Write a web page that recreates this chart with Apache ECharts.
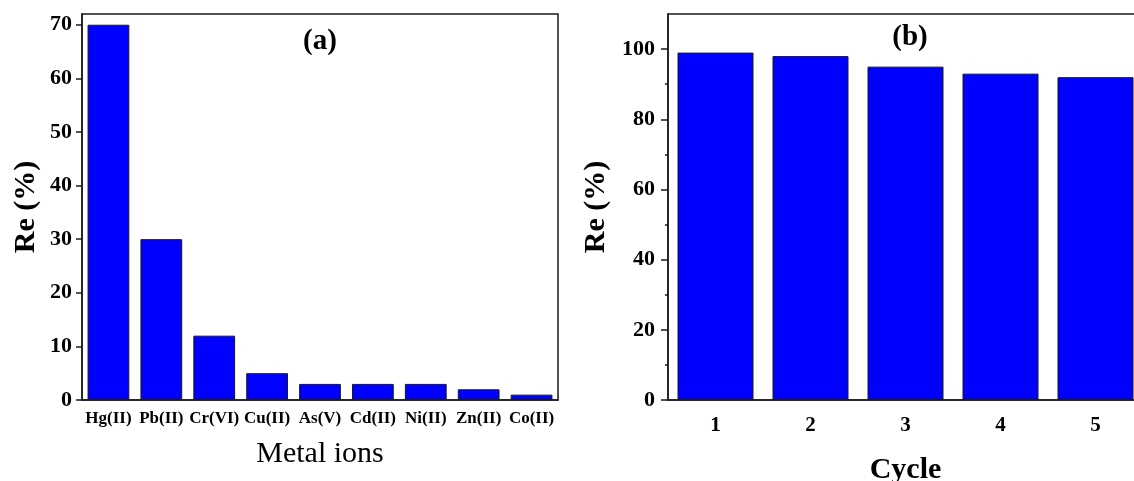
<!DOCTYPE html>
<html>
<head>
<meta charset="utf-8">
<script src="https://cdn.jsdelivr.net/npm/echarts@6/dist/echarts.min.js"></script>
<style>
html,body{margin:0;padding:0;background:#fff;}
#c{width:1134px;height:481px;}
</style>
</head>
<body>
<div id="c"></div>
<script>
const metalIons = ['Hg(II)','Pb(II)','Cr(VI)','Cu(II)','As(V)','Cd(II)','Ni(II)','Zn(II)','Co(II)'];
const metalRe = [70, 30, 12, 5, 3, 3, 3, 2, 1];
const cycles = ['1','2','3','4','5'];
const cycleRe = [99, 98, 95, 93, 92];
const ticksA = [0, 10, 20, 30, 40, 50, 60, 70];
const ticksB = [0, 20, 40, 60, 80, 100];
const minorTicksB = [10, 30, 50, 70, 90];

const FONT = '"Liberation Serif", "Times New Roman", serif';
const INK = '#1a1a1a';
const BLUE = '#0000ff';

const chart = echarts.init(document.getElementById('c'), null, {renderer: 'canvas'});

const lineStyle = {color: INK, width: 1.5};

chart.setOption({
  animation: false,
  backgroundColor: '#fff',
  title: [
    {text: '(a)', left: 315, top: 22, textAlign: 'center',
     textStyle: {fontFamily: FONT, fontWeight: 'bold', fontSize: 29, color: '#000'}},
    {text: '(b)', left: 905, top: 18, textAlign: 'center',
     textStyle: {fontFamily: FONT, fontWeight: 'bold', fontSize: 29, color: '#000'}}
  ],
  grid: [
    {left: 82, top: 14, width: 476, height: 386, show: true, borderColor: INK, borderWidth: 1.5,
     backgroundColor: 'transparent', outerBoundsMode: 'none', containLabel: false},
    {left: 668, top: 14, width: 475, height: 386, show: true, borderColor: INK, borderWidth: 1.5,
     backgroundColor: 'transparent', outerBoundsMode: 'none', containLabel: false}
  ],
  xAxis: [
    {type: 'category', gridIndex: 0, data: metalIons,
     name: 'Metal ions', nameLocation: 'middle', nameGap: 39,
     nameTextStyle: {fontFamily: FONT, fontSize: 30, color: '#000'},
     axisLine: {lineStyle: lineStyle},
     axisTick: {alignWithLabel: true, length: 5, lineStyle: lineStyle},
     axisLabel: {fontFamily: FONT, fontWeight: 'bold', fontSize: 17, color: '#000', margin: 10, interval: 0},
     splitLine: {show: false}},
    {type: 'category', gridIndex: 1, data: cycles,
     name: 'Cycle', nameLocation: 'middle', nameGap: 55,
     nameTextStyle: {fontFamily: FONT, fontWeight: 'bold', fontSize: 30, color: '#000'},
     axisLine: {lineStyle: lineStyle},
     axisTick: {alignWithLabel: true, length: 6, lineStyle: lineStyle},
     axisLabel: {fontFamily: FONT, fontWeight: 'bold', fontSize: 21, color: '#000', margin: 15},
     splitLine: {show: false}}
  ],
  yAxis: [
    {type: 'value', gridIndex: 0, min: 0, max: 72, interval: 10,
     name: 'Re (%)', nameLocation: 'middle', nameGap: 41,
     nameTextStyle: {fontFamily: FONT, fontWeight: 'bold', fontSize: 30, color: '#000'},
     axisLine: {show: true, lineStyle: lineStyle},
     axisTick: {show: true, length: 6, lineStyle: lineStyle, customValues: ticksA},
     axisLabel: {fontFamily: FONT, fontWeight: 'bold', fontSize: 22, color: '#000', margin: 10, customValues: ticksA},
     splitLine: {show: false}},
    {type: 'value', gridIndex: 1, min: 0, max: 110, interval: 10,
     name: 'Re (%)', nameLocation: 'middle', nameGap: 57,
     nameTextStyle: {fontFamily: FONT, fontWeight: 'bold', fontSize: 30, color: '#000'},
     axisLine: {show: true, lineStyle: lineStyle},
     axisTick: {show: true, length: 7, lineStyle: lineStyle, customValues: ticksB},
     axisLabel: {fontFamily: FONT, fontWeight: 'bold', fontSize: 22, color: '#000', margin: 13, customValues: ticksB},
     splitLine: {show: false}},
    {type: 'value', gridIndex: 1, min: 0, max: 110, interval: 10, position: 'left',
     axisLine: {show: false},
     axisTick: {show: true, length: 3, lineStyle: lineStyle, customValues: minorTicksB},
     axisLabel: {show: false},
     splitLine: {show: false}}
  ],
  series: [
    {type: 'bar', xAxisIndex: 0, yAxisIndex: 0, data: metalRe, barCategoryGap: '21%',
     itemStyle: {color: BLUE, borderColor: INK, borderWidth: 1}},
    {type: 'bar', xAxisIndex: 1, yAxisIndex: 1, data: cycleRe, barCategoryGap: '20%',
     itemStyle: {color: BLUE, borderColor: INK, borderWidth: 1}}
  ]
});
</script>
</body>
</html>
